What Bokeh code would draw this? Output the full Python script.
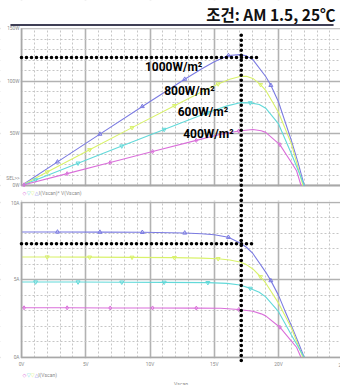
from bokeh.plotting import figure
from bokeh.layouts import column
from bokeh.models import Range1d, FixedTicker, Label, BoxAnnotation, ColumnDataSource
from bokeh.embed import file_html
from bokeh.resources import INLINE

# ---------------- data ----------------
title_text = "조건: AM 1.5, 25℃"
irr_labels = ["1000W/m²", "800W/m²", "600W/m²", "400W/m²"]

v_1000 = [0, 2.8, 6.1, 9.4, 12.7, 14, 15, 16.1, 17, 17.5, 18, 19, 19.4, 20, 20.5, 21, 21.5, 22.0]
i_1000 = [8.08, 8.08, 8.07, 8.06, 8.02, 7.97, 7.9, 7.74, 7.38, 7.1, 6.7, 5.5, 4.95, 4.0, 3.0, 2.05, 1.05, 0]
mk_1000 = [1, 2, 3, 4, 7, 12]

v_800 = [0, 2.0, 5.3, 8.6, 11.9, 14, 15.3, 16.2, 17, 17.5, 18, 18.6, 19, 20, 21, 21.9]
i_800 = [6.47, 6.47, 6.46, 6.45, 6.43, 6.4, 6.36, 6.28, 6.15, 5.98, 5.7, 5.2, 4.8, 3.5, 1.9, 0]
mk_800 = [1, 2, 3, 4, 6, 11]

v_600 = [0, 1.1, 4.4, 7.8, 11.1, 14.5, 16, 17, 17.8, 18.5, 19, 20, 21, 22]
i_600 = [4.86, 4.86, 4.86, 4.85, 4.84, 4.82, 4.77, 4.67, 4.45, 4.2, 3.9, 2.95, 1.45, 0]
mk_600 = [1, 2, 3, 4, 5, 8]

v_400 = [0, 0.2, 3.55, 6.9, 10.2, 13.6, 15.5, 16.9, 18, 18.65, 19, 20.1, 21, 21.4, 21.75]
i_400 = [3.2, 3.2, 3.2, 3.19, 3.19, 3.18, 3.17, 3.09, 2.98, 2.81, 2.68, 1.95, 1.05, 0.66, 0]
mk_400 = [1, 2, 3, 4, 5, 7, 11]

# maximum power point (dotted guide lines)
v_mp = 17.1
p_max = 122.7
i_mp = 7.32
dot_top_w = 144
p_dot_end_v = 18.4
i_dot_end_v = 18.2

x_ticks = [0, 5, 10, 15, 20]
x_tick_labels = ["0V", "5V", "10V", "15V", "20V"]
x_cut_tick, x_cut_label = 25, "25V"
p_ticks = [0, 50, 100, 150]
p_tick_labels = ["0W", "50W", "100W", "150W"]
sel_pos = 6.7
i_ticks = [0, 5, 10]
i_tick_labels = ["0A", "5A", "10A"]

# ---------------- styling ----------------
series = [
    dict(v=v_1000, i=i_1000, mk=mk_1000, color="#7b7be2", marker="triangle", label=irr_labels[0], lx=9.6, ly=113.6),
    dict(v=v_800, i=i_800, mk=mk_800, color="#d9f26a", marker="inverted_triangle", label=irr_labels[1], lx=11.1, ly=91.0),
    dict(v=v_600, i=i_600, mk=mk_600, color="#62d9d9", marker="inverted_triangle", label=irr_labels[2], lx=12.15, ly=70.2),
    dict(v=v_400, i=i_400, mk=mk_400, color="#da6fda", marker="diamond", label=irr_labels[3], lx=12.58, ly=49.5),
]
legend_order = [3, 2, 1, 0]
legend_syms = {"triangle": "△", "inverted_triangle": "▽", "diamond": "◇"}

MAJ = "#b2b2b2"
MIN = "#c6c6c6"
TXT = "#8a8a8a"
TICK_FONT = "4.8px"
W = 340
X_START, X_END = -1.634, 24.82
P_START, P_END = -14.38, 177.3
I_START, I_END = -1.803, 10.109
RULE_X = (-0.86, 24.28)
RULE_Y = 153.85


def style_grid(p, yt):
    p.xgrid.ticker = FixedTicker(ticks=x_ticks + [x_cut_tick], minor_ticks=list(range(0, 26)))
    p.ygrid.ticker = yt
    for g in (p.xgrid, p.ygrid):
        g.grid_line_color = MAJ
        g.grid_line_width = 1.6
        g.minor_grid_line_color = MIN
        g.minor_grid_line_dash = "2 2"
        g.minor_grid_line_width = 1


def style_axis(ax):
    ax.fixed_location = 0
    ax.axis_line_color = "#a8a8a8"
    ax.axis_line_width = 1.6
    ax.major_tick_line_color = None
    ax.minor_tick_line_color = None
    ax.major_tick_out = 0
    ax.major_tick_in = 0
    ax.major_label_text_font_size = TICK_FONT
    ax.major_label_text_color = TXT
    ax.major_label_text_font = "Roboto"
    ax.major_label_standoff = 2


def white(p, **kw):
    p.add_layout(BoxAnnotation(fill_color="white", fill_alpha=1.0, line_alpha=0, level="underlay", **kw))


# ---------------- top: P-V ----------------
top = figure(width=W, height=200, output_backend="svg", toolbar_location=None,
             x_range=Range1d(X_START, X_END), y_range=Range1d(P_START, P_END),
             x_axis_location=None, min_border=0)
top.outline_line_color = None
style_grid(top, FixedTicker(ticks=p_ticks, minor_ticks=list(range(0, 151, 10))))
yax = top.yaxis[0]
style_axis(yax)
yax.ticker = FixedTicker(ticks=p_ticks + [sel_pos], minor_ticks=[])
ov = dict(zip(p_ticks, p_tick_labels))
ov[sel_pos] = "SEL>>"
yax.major_label_overrides = ov
yax.bounds = (0, 150)

# white areas outside the plotting box (title area, left margin, gap below 0 W)
white(top, bottom=150.8)
white(top, top=-0.8)
white(top, right=-0.06)
top.add_layout(BoxAnnotation(top=0.9, bottom=-0.9, fill_color="#a8a8a8", fill_alpha=1.0,
                             line_alpha=0, left=0, level="underlay"))

for s in series:
    pw = [v * i for v, i in zip(s["v"], s["i"])]
    src = ColumnDataSource(dict(v=s["v"], p=pw))
    top.line("v", "p", source=src, line_color=s["color"], line_width=1.1)
    msrc = ColumnDataSource(dict(v=[s["v"][k] for k in s["mk"]], p=[pw[k] for k in s["mk"]]))
    top.scatter("v", "p", source=msrc, marker=s["marker"], size=4, fill_color=None,
                line_color=s["color"], line_width=1)
    top.add_layout(Label(x=s["lx"], y=s["ly"], text=s["label"], text_font="Roboto",
                         text_font_style="bold", text_font_size="12px", text_color="black",
                         text_baseline="alphabetic", text_align="left"))

# dotted guide lines (max power point)
top.line([0, p_dot_end_v], [p_max, p_max], line_color="black", line_width=3.6,
         line_dash="0 5", line_cap="round", level="overlay")
top.line([v_mp, v_mp], [dot_top_w, P_START], line_color="black", line_width=3.6,
         line_dash="0 5", line_cap="round", level="overlay")

# title and rule
top.add_layout(Label(x=24.44, y=164.4, text=title_text, text_font="Noto Sans CJK KR",
                     text_font_style="bold", text_font_size="15.5px", text_color="#111111",
                     text_align="right", text_baseline="middle"))
top.line(list(RULE_X), [RULE_Y, RULE_Y], line_color="#3f3f55", line_width=2, level="overlay")

# top legend
for n, k in enumerate(legend_order):
    s = series[k]
    top.add_layout(Label(x=0.08 + n * 0.32, y=-7.67, text=legend_syms[s["marker"]],
                         text_font="DejaVu Sans", text_font_size="5px",
                         text_color=s["color"], text_baseline="middle"))
top.add_layout(Label(x=1.35, y=-7.67, text="I(Vscan)* V(Vscan)", text_font="Roboto",
                     text_font_size="5px", text_color=TXT, text_baseline="middle"))

# ---------------- bottom: I-V ----------------
bot = figure(width=W, height=185, output_backend="svg", toolbar_location=None,
             x_range=Range1d(X_START, X_END), y_range=Range1d(I_START, I_END), min_border=0)
bot.outline_line_color = None
style_grid(bot, FixedTicker(ticks=i_ticks, minor_ticks=list(range(0, 11))))
style_axis(bot.yaxis[0])
bot.yaxis[0].ticker = FixedTicker(ticks=i_ticks, minor_ticks=[])
bot.yaxis[0].major_label_overrides = dict(zip(i_ticks, i_tick_labels))
bot.yaxis[0].bounds = (0, 10)
xax = bot.xaxis[0]
style_axis(xax)
xax.ticker = FixedTicker(ticks=x_ticks, minor_ticks=[])
xax.major_label_overrides = dict(zip(x_ticks, x_tick_labels))
xax.bounds = (0, X_END)
xax.major_label_standoff = 5
xax.axis_label = "Vscan"
xax.axis_label_text_font = "Roboto"
xax.axis_label_text_font_size = "5px"
xax.axis_label_text_font_style = "normal"
xax.axis_label_text_color = TXT
xax.axis_label_standoff = 10

white(bot, bottom=10.05)
white(bot, top=-0.05)
white(bot, right=-0.06)

for s in series:
    src = ColumnDataSource(dict(v=s["v"], i=s["i"]))
    bot.line("v", "i", source=src, line_color=s["color"], line_width=1.1)
    msrc = ColumnDataSource(dict(v=[s["v"][k] for k in s["mk"]], i=[s["i"][k] for k in s["mk"]]))
    bot.scatter("v", "i", source=msrc, marker=s["marker"], size=4, fill_color=None,
                line_color=s["color"], line_width=1)

bot.line([0, i_dot_end_v], [i_mp, i_mp], line_color="black", line_width=3.6,
         line_dash="0 5", line_cap="round", level="overlay")
bot.line([v_mp, v_mp], [I_END, -0.2], line_color="black", line_width=3.6,
         line_dash="0 5", line_cap="round", level="overlay")

# the 25V tick label is cut by the right edge in the reference
bot.add_layout(Label(x=x_cut_tick, y=-0.515, text=x_cut_label, text_font="Roboto",
                     text_font_size=TICK_FONT, text_color=TXT, text_align="center",
                     text_baseline="middle"))

for n, k in enumerate(legend_order):
    s = series[k]
    bot.add_layout(Label(x=0.08 + n * 0.32, y=-1.095, text=legend_syms[s["marker"]],
                         text_font="DejaVu Sans", text_font_size="5px",
                         text_color=s["color"], text_baseline="middle"))
bot.add_layout(Label(x=1.3, y=-1.095, text="I(Vscan)", text_font="Roboto",
                     text_font_size="5px", text_color=TXT, text_baseline="middle"))

layout = column(top, bot, spacing=0)
open("out.html", "w").write(file_html(layout, INLINE))
